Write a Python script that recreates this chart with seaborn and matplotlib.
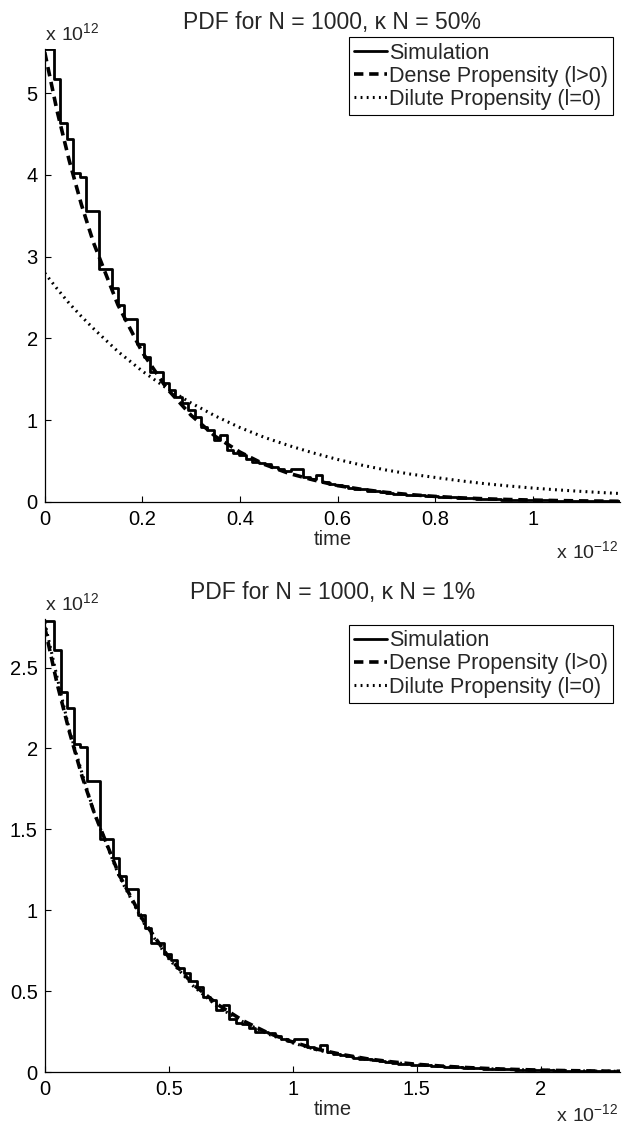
import numpy as np
import pandas as pd
import seaborn as sns
import matplotlib.pyplot as plt
from matplotlib.ticker import FuncFormatter

# Simulation histograms (heights in units of 1e12, one value per bin)
sim_top = [5.54, 5.17, 4.63, 4.44, 4.02, 3.97, 3.56, 3.56, 2.85, 2.85,
           2.62, 2.41, 2.24, 2.24, 1.93, 1.77, 1.59, 1.59, 1.45, 1.37,
           1.28, 1.21, 1.12, 1.04, 0.92, 0.88, 0.76, 0.82, 0.64, 0.60,
           0.58, 0.53, 0.49, 0.48, 0.47, 0.43, 0.40, 0.38, 0.40, 0.40,
           0.30, 0.28, 0.33, 0.24, 0.22, 0.21, 0.19, 0.17, 0.16, 0.155,
           0.14, 0.13, 0.125, 0.11, 0.10, 0.095, 0.09, 0.085, 0.08, 0.07,
           0.068, 0.062, 0.058, 0.056, 0.05, 0.046, 0.045, 0.04, 0.038, 0.034,
           0.032, 0.03, 0.027, 0.026, 0.024, 0.023, 0.021, 0.019, 0.018, 0.017,
           0.016, 0.014, 0.014, 0.012, 0.011, 0.011, 0.01, 0.009, 0.009, 0.008]
sim_bottom = [2.79, 2.61, 2.35, 2.25, 2.03, 2.01, 1.80, 1.80, 1.44, 1.44,
              1.32, 1.21, 1.13, 1.13, 0.97, 0.89, 0.80, 0.80, 0.73, 0.69,
              0.645, 0.61, 0.565, 0.525, 0.465, 0.445, 0.385, 0.415, 0.325, 0.305,
              0.295, 0.27, 0.25, 0.245, 0.24, 0.22, 0.205, 0.195, 0.205, 0.205,
              0.155, 0.145, 0.17, 0.125, 0.113, 0.108, 0.098, 0.088, 0.083, 0.079,
              0.072, 0.067, 0.064, 0.057, 0.052, 0.049, 0.046, 0.043, 0.041, 0.036,
              0.035, 0.032, 0.030, 0.029, 0.026, 0.024, 0.023, 0.021, 0.020, 0.018,
              0.017, 0.016, 0.014, 0.014, 0.013, 0.012, 0.011, 0.010, 0.009, 0.009,
              0.008, 0.008, 0.007, 0.007, 0.006, 0.006, 0.005, 0.005, 0.005, 0.004]

# bins: the first one is wider, the rest are equal (time in units of 1e-12)
first_edge_top, bin_w_top = 0.019, 0.0131
first_edge_bot, bin_w_bot = 0.0375, 0.0262

# analytic curves
t_top = [0, 0.025, 0.05, 0.075, 0.1, 0.15, 0.2, 0.25, 0.3, 0.35, 0.4, 0.45, 0.5,
         0.55, 0.6, 0.65, 0.7, 0.75, 0.8, 0.85, 0.9, 0.95, 1.0, 1.05, 1.1, 1.15, 1.18]
dense_top = [5.50, 4.79, 4.18, 3.64, 3.17, 2.41, 1.83, 1.39, 1.06, 0.80, 0.61, 0.46, 0.35,
             0.27, 0.20, 0.154, 0.117, 0.089, 0.068, 0.051, 0.039, 0.030, 0.023, 0.017,
             0.013, 0.010, 0.008]
dilute_top = [2.80, 2.61, 2.43, 2.27, 2.12, 1.84, 1.60, 1.39, 1.21, 1.05, 0.91, 0.79, 0.69,
              0.60, 0.52, 0.45, 0.39, 0.34, 0.30, 0.26, 0.225, 0.196, 0.170, 0.148,
              0.129, 0.112, 0.103]

t_bot = [0, 0.05, 0.1, 0.15, 0.2, 0.3, 0.4, 0.5, 0.6, 0.7, 0.8, 0.9, 1.0, 1.1, 1.2,
         1.3, 1.4, 1.5, 1.6, 1.7, 1.8, 1.9, 2.0, 2.1, 2.2, 2.3, 2.32]
dense_bot = [2.75, 2.40, 2.10, 1.83, 1.60, 1.22, 0.93, 0.71, 0.54, 0.415, 0.317, 0.242,
             0.185, 0.141, 0.108, 0.082, 0.063, 0.048, 0.037, 0.028, 0.021, 0.016,
             0.012, 0.009, 0.007, 0.005, 0.005]
dilute_bot = [2.78, 2.44, 2.11, 1.85, 1.60, 1.21, 0.92, 0.70, 0.53, 0.40, 0.31, 0.235,
              0.18, 0.136, 0.103, 0.078, 0.060, 0.045, 0.034, 0.026, 0.020, 0.015,
              0.011, 0.009, 0.006, 0.005, 0.005]

titles = ['PDF for N = 1000, \u03ba N = 50%', 'PDF for N = 1000, \u03ba N = 1%']
labels = ['Simulation', 'Dense Propensity (l>0)', 'Dilute Propensity (l=0)']

sns.set_style('ticks')
plt.rcParams['font.family'] = ['Liberation Sans', 'DejaVu Sans']
plt.rcParams['mathtext.fontset'] = 'custom'
plt.rcParams['mathtext.rm'] = 'Liberation Sans'

fig = plt.figure(figsize=(6.23, 11.28), dpi=100)
ax1 = fig.add_axes([0.0718, 0.555, 0.9235, 0.4016])
ax2 = fig.add_axes([0.0718, 0.0496, 0.9235, 0.4016])

# axes, data, limits, ticks, legend top, y of the "x 10^-12" note
panels = [
    (ax1, sim_top, first_edge_top, bin_w_top, t_top, dense_top, dilute_top,
     1.179, 5.54, [0, 0.2, 0.4, 0.6, 0.8, 1.0], [0, 1, 2, 3, 4, 5], 1.026, -0.108),
    (ax2, sim_bottom, first_edge_bot, bin_w_bot, t_bot, dense_bot, dilute_bot,
     2.32, 2.80, [0, 0.5, 1, 1.5, 2], [0, 0.5, 1, 1.5, 2, 2.5], 0.987, -0.094),
]

fmt = FuncFormatter(lambda v, p: '{:g}'.format(v))

for i, (ax, sim, e0, w, t, dense, dilute, xmax, ymax, xt, yt, leg_y, exp_y) in enumerate(panels):
    edges = np.concatenate([[0.0], e0 + w * np.arange(len(sim))])
    centers = (edges[:-1] + edges[1:]) / 2
    df = pd.DataFrame({'t': centers, 'h': sim})
    sns.histplot(data=df, x='t', weights='h', bins=edges.tolist(), element='step',
                 fill=False, color='black', linewidth=2.0, ax=ax, label=labels[0])
    sns.lineplot(x=t, y=dense, ax=ax, color='black', linewidth=2.6,
                 linestyle=(0, (2.6, 1.6)), label=labels[1])
    sns.lineplot(x=t, y=dilute, ax=ax, color='black', linewidth=2.2,
                 linestyle=(0, (0.6, 1.4)), label=labels[2])

    ax.set_xlim(0, xmax)
    ax.set_ylim(0, ymax)
    ax.set_xticks(xt)
    ax.set_yticks(yt)
    ax.xaxis.set_major_formatter(fmt)
    ax.yaxis.set_major_formatter(fmt)
    ax.tick_params(direction='in', length=4, width=0.8, labelsize=14.5, pad=5, colors='black')
    ax.tick_params(axis='x', pad=6)
    sns.despine(ax=ax)
    for s in ['left', 'bottom']:
        ax.spines[s].set_color('black')
        ax.spines[s].set_linewidth(0.9)

    ax.set_ylabel('')
    ax.set_xlabel('time', fontsize=14.5)
    ax.xaxis.set_label_coords(0.5, -0.062)

    ax.set_title(titles[i], fontsize=16.5, y=1.04, va='center')
    ax.text(0.0, 1.035, r'$\mathregular{x\ 10^{12}}$', transform=ax.transAxes,
            ha='left', va='center', fontsize=14)
    ax.text(0.997, exp_y, r'$\mathregular{x\ 10^{-12}}$', transform=ax.transAxes,
            ha='right', va='center', fontsize=14)

    leg = ax.legend(loc='upper right', bbox_to_anchor=(0.988, leg_y), fontsize=15.5,
                    frameon=True, fancybox=False, framealpha=1, edgecolor='black',
                    handlelength=1.5, handletextpad=0.1, borderpad=0.25,
                    labelspacing=0.1, borderaxespad=0)
    leg.get_frame().set_linewidth(0.8)

fig.savefig('out.png', dpi=100)
